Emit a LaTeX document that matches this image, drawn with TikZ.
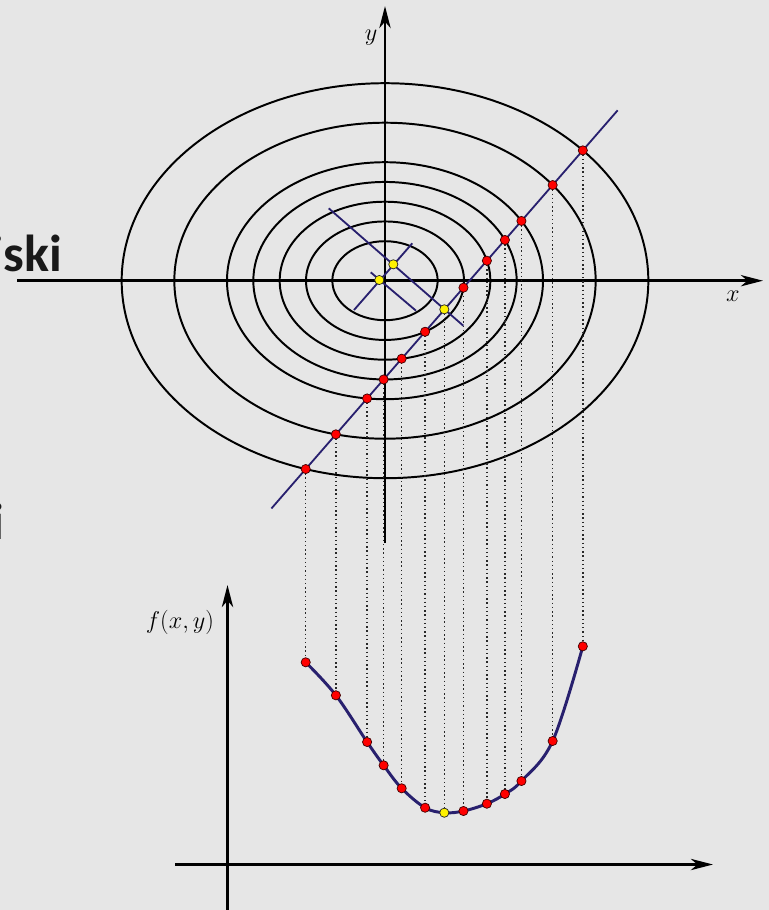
\documentclass[tikz,border=0pt]{standalone}
\usepackage{fontspec}
\newfontfamily\slidefont{Carlito}
\usetikzlibrary{arrows.meta}
\definecolor{slidegray}{RGB}{230,230,230}
\definecolor{linenavy}{RGB}{40,32,110}
\definecolor{projgray}{RGB}{40,40,40}
\tikzset{
  axis/.style={line width=2.1pt,-{Stealth[length=5.5mm,width=2.8mm,inset=1.6mm]}},
  contour/.style={line width=1.4pt},
  searchline/.style={linenavy,line width=1.3pt},
  proj/.style={projgray,line width=1pt,dotted},
  fcurve/.style={linenavy,line width=2.1pt},
  reddot/.style={circle,fill=red,draw=black!75!red,line width=0.5pt,inner sep=0pt,minimum size=2.3mm},
  yellowdot/.style={reddot,fill=yellow,draw=black!85},
  slideword/.style={anchor=base east,inner sep=0pt,text=black!90,font=\slidefont\bfseries\fontsize{37}{42}\selectfont},
  axlabel/.style={font=\fontsize{18}{20}\selectfont}
}
\begin{document}
\begin{tikzpicture}[x=0.025cm,y=-0.025cm]
    \fill[slidegray] (0,0) rectangle (769,910);
    \useasboundingbox (0,0) rectangle (769,910);
    \clip (0,0) rectangle (769,910);
    % slide text behind the figure
    \node[slideword] (word1) at (62.5,271) {jski};
    \node[slideword] (word2) at (5,539) {i};
    % contours
    \begin{scope}[shift={(385,280.7)}]
        \foreach \b in {2,3,4,5,6,8,10}
            \draw[contour] (0,0) ellipse [x radius={26.333*\b}, y radius={19.75*\b}];
    \end{scope}
    % axes of the contour plot
    \draw[axis] (17,280.7) -- (763,280.7);
    \draw[axis] (385,543) -- (385,6);
    \node[axlabel] (xlab) at (733,296) {$x$};
    \node[axlabel] (ylab) at (371,38) {$y$};
    % search line and the two short steps
    \coordinate (la) at ({385+19.75*(-5.75)},{377.87-22.7125*(-5.75)});
    \coordinate (lb) at ({385+19.75*11.78},{377.87-22.7125*11.78});
    \draw[searchline] (la) -- (lb);
    \coordinate (ga) at (328.7,208.3);
    \coordinate (gb) at (463.3,325.7);
    \coordinate (ha) at (354,310);
    \coordinate (hb) at (412.3,243.3);
    \coordinate (ka) at (370.7,272.3);
    \coordinate (kb) at (416,310.7);
    \draw[searchline] (ga) -- (gb);
    \draw[searchline] (ha) -- (hb);
    \draw[searchline] (ka) -- (kb);
    % axes of f along the line
    \draw[axis] (175,864.5) -- (713,864.5);
    \draw[axis] (227.5,915) -- (227.5,585);
    \node[axlabel] (flab) at (180,622) {$f(x,y)$};
    % points on the line and their values
    \foreach \i/\t/\fy in {1/-4.014/662.3,2/-2.486/695.3,3/-0.906/742,4/-0.0695/765.3,
                            5/0.844/788.3,6/2.031/807.7,8/3.973/811,9/5.159/803.7,
                            10/6.072/794,11/6.909/781,12/8.489/741,13/10.017/646.3} {
        \coordinate (p\i) at ({385+19.75*\t},{377.87-22.7125*\t});
        \coordinate (q\i) at ({385+19.75*\t},\fy);
        \draw[proj] (p\i) -- (q\i);
    }
    \coordinate (p7) at (444.3,309.3);
    \coordinate (q7) at (444.3,812.7);
    \draw[proj] (p7) -- (q7);
    \draw[fcurve] plot[smooth,tension=0.6] coordinates {(q1) (q2) (q3) (q4) (q5) (q6) (q7)
                                                        (q8) (q9) (q10) (q11) (q12) (q13)};
    \foreach \i in {1,2,3,4,5,6,8,9,10,11,12,13} {
        \node[reddot] (dp\i) at (p\i) {};
        \node[reddot] (dq\i) at (q\i) {};
    }
    \node[yellowdot] (dp7) at (p7) {};
    \node[yellowdot] (dq7) at (q7) {};
    \node[yellowdot] (s0) at (379.3,280) {};
    \node[yellowdot] (s1) at (393.3,264.3) {};
\end{tikzpicture}
\end{document}
